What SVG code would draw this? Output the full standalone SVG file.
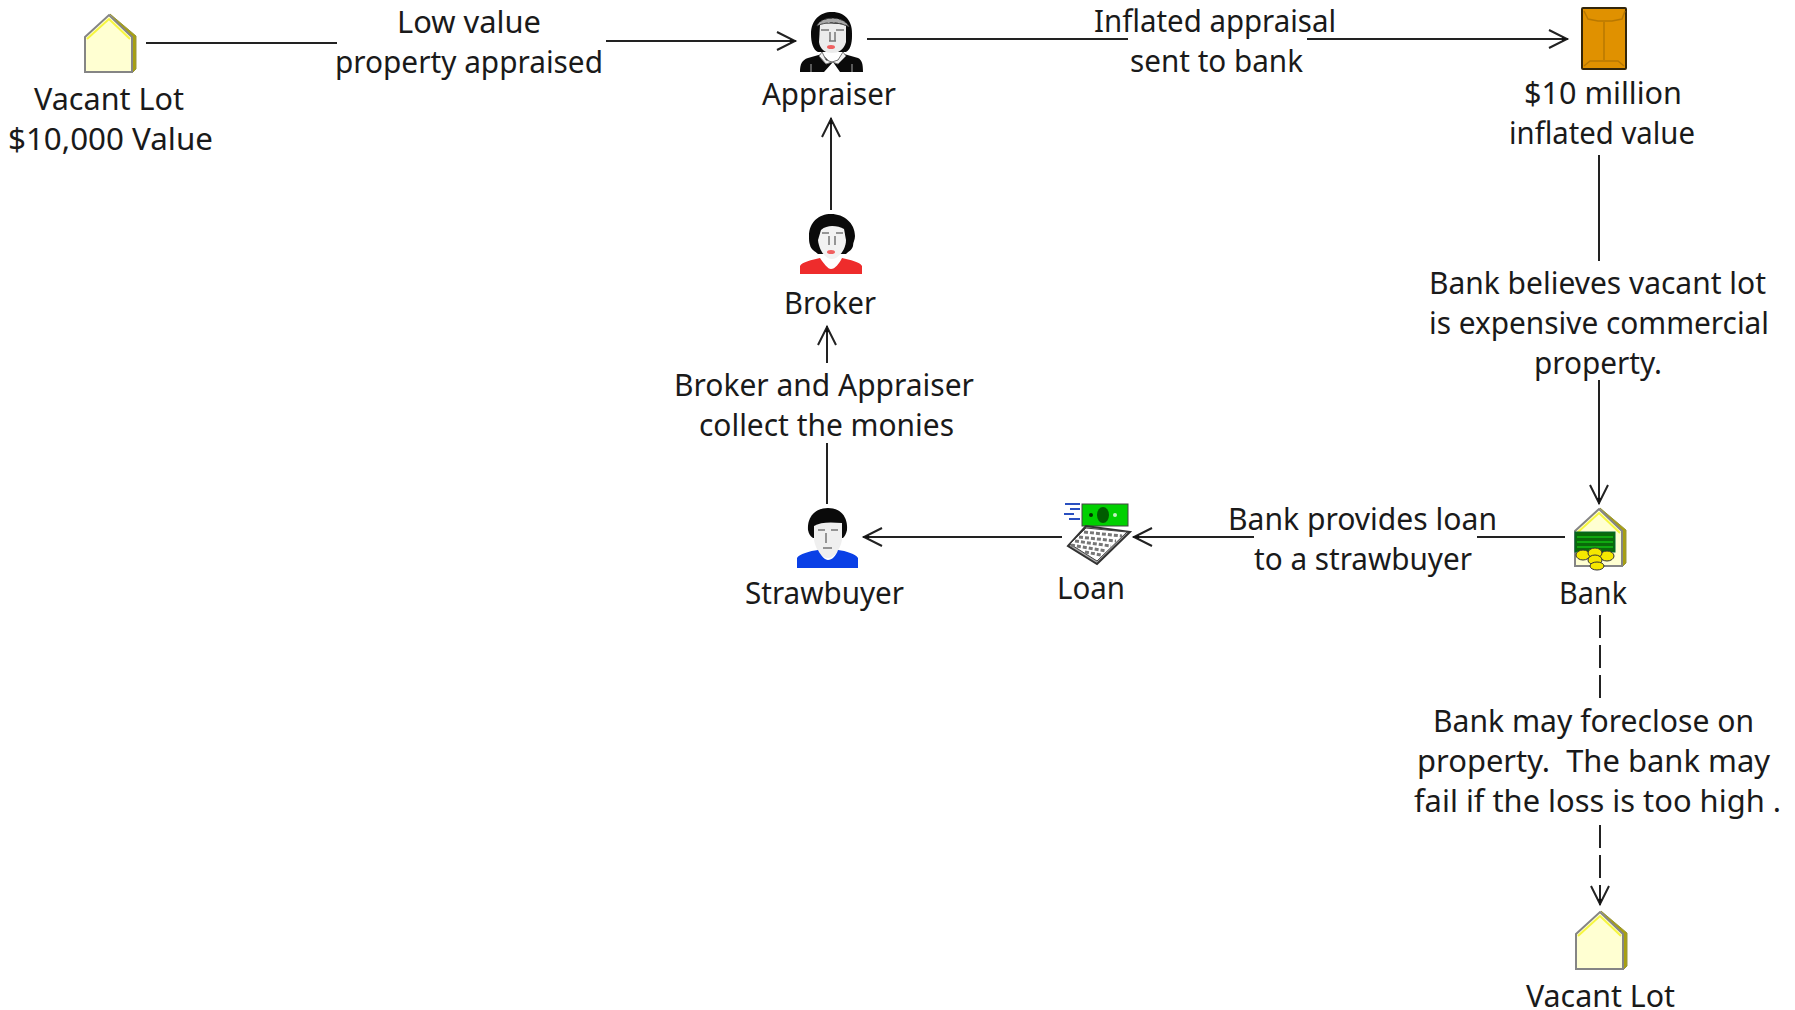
<svg xmlns="http://www.w3.org/2000/svg" width="1795" height="1010" viewBox="0 0 1795 1010">
<style>
text{font-family:"Noto Sans","DejaVu Sans",sans-serif;font-size:30px;fill:#1a1a1a;white-space:pre}
.c{fill:none;stroke:#222;stroke-width:2}
.a{marker-end:url(#arrow)}
.d{stroke-dasharray:23 7}
.fl{fill:none;stroke:#777;stroke-width:1.5}
.lip{fill:#f06060}
</style>
<defs>
<marker id="arrow" markerUnits="userSpaceOnUse" markerWidth="24" markerHeight="24" refX="22" refY="12" orient="auto" overflow="visible">
<path d="M3,3 L21,12 L3,21" fill="none" stroke="#222" stroke-width="2"/>
<path d="M16,10 L22,12 L16,14 Z" fill="#111"/>
</marker>
<g id="house">
<polygon points="1,-1 27,21 27,54 23,58 20,20" fill="#a8a010" stroke="#99953a" stroke-width="1"/>
<polygon points="-24,22 0,0 23,22 23,57 -24,57" fill="#ffffd2" stroke="#858585" stroke-width="2"/>
<polyline points="-22,24 0,4 21,24" fill="none" stroke="#f6f640" stroke-width="2"/>
</g>
</defs>

<g id="connectors">
<path class="c" d="M146,43H337"/>
<path class="c a" d="M606,41H796"/>
<path class="c" d="M867,39H1128"/>
<path class="c a" d="M1307,39H1568"/>
<path class="c" d="M1599,155V261"/>
<path class="c a" d="M1599,380V504"/>
<path class="c" d="M1477,537H1565"/>
<path class="c a" d="M1254,537H1133"/>
<path class="c a" d="M1062,537H863"/>
<path class="c" d="M827,504V443"/>
<path class="c a" d="M827,363V326"/>
<path class="c a" d="M831,210V118"/>
<path class="c d" d="M1600,615V698"/>
<path class="c d a" d="M1600,825V905"/>
</g>

<g id="vacant-lot-1">
<use href="#house" x="109" y="15"/>
<text x="34" y="110" textLength="150" lengthAdjust="spacingAndGlyphs">Vacant Lot</text>
<text x="8" y="150" textLength="205" lengthAdjust="spacingAndGlyphs">$10,000 Value</text>
</g>

<g id="appraiser">
<path d="M811,34C811,20 820,12 832,12C846,12 853,22 852,36C852,44 850,50 846,52H818C813,50 811,42 811,34Z" fill="#0a0a0a"/>
<path d="M817,26C820,16 844,15 849,27C842,22 826,21 817,26Z" fill="#a8a8a8" stroke="#444" stroke-dasharray="3 2"/>
<path d="M820,25C828,23 838,23 846,26L846,42C844,50 838,53 832,53C826,53 820,50 819,42Z" fill="#ececec"/>
<path class="fl" d="M821,30H829M836,30H844M830,32V41M835,32V41M829,41H836"/>
<ellipse class="lip" cx="831" cy="47" rx="4" ry="2"/>
<path d="M800,72C800,64 802,60 808,58L822,54L830,62L836,62L844,54L858,58C862,60 863,64 863,72H840L833,62L824,72Z" fill="#0a0a0a"/>
<path d="M822,52L826,60L832,62L838,60L843,52L846,56L838,64L832,62L826,64L819,56Z" fill="#f2f2f2" stroke="#777" stroke-width="1"/>
<path d="M811,72V64M852,72V64" stroke="#aaa" stroke-width="1"/>
<text x="762" y="105" textLength="134" lengthAdjust="spacingAndGlyphs">Appraiser</text>
</g>

<g id="inflated-value">
<rect x="1582" y="8" width="44" height="61" rx="1" fill="#e09100" stroke="#33260a" stroke-width="2"/>
<path d="M1584,11L1588,19L1598,21H1612L1622,19L1625,11M1604,22V60M1584,66L1590,61H1618L1624,66" fill="none" stroke="#b87800" stroke-width="1.5"/>
<text x="1524" y="104" textLength="158" lengthAdjust="spacingAndGlyphs">$10 million</text>
<text x="1509" y="144" textLength="186" lengthAdjust="spacingAndGlyphs">inflated value</text>
</g>

<g id="broker">
<path d="M809,236C809,222 819,214 831,214C844,214 855,223 855,236C855,240 853,242 853,246C852,250 849,251 846,254L818,254C815,251 811,250 810,245C809,242 809,240 809,236Z" fill="#0a0a0a"/>
<path d="M821,230C828,224 838,226 844,229L846,240C846,250 838,259 832,259C825,259 819,250 818,240Z" fill="#f2f2f2"/>
<path class="fl" d="M822,233H829M836,233H843M829,236V245M835,236V245"/>
<ellipse class="lip" cx="831" cy="252" rx="4" ry="2"/>
<path d="M800,274V266C802,262 812,260 820,258C824,264 828,269 831,269C835,269 839,264 842,258C850,260 860,262 862,266V274Z" fill="#ee2c2c"/>
<text x="784" y="314" textLength="92" lengthAdjust="spacingAndGlyphs">Broker</text>
</g>

<g id="monies-label">
<text x="674" y="396" textLength="300" lengthAdjust="spacingAndGlyphs">Broker and Appraiser</text>
<text x="699" y="436" textLength="255" lengthAdjust="spacingAndGlyphs">collect the monies</text>
</g>

<g id="strawbuyer">
<path d="M808,530C807,516 816,508 828,508C840,508 848,516 847,530C846,534 845,536 843,538H813C810,536 809,534 808,530Z" fill="#0a0a0a"/>
<path d="M814,526C820,522 830,522 842,523L842,540C840,550 834,558 828,558C821,558 816,550 814,540Z" fill="#efefef"/>
<path class="fl" d="M818,530H825M831,530H838M826,533V543M823,548H832"/>
<path d="M797,568V558C799,554 810,551 818,550C821,556 825,560 828,560C832,560 836,556 838,550C846,551 856,554 858,558V568Z" fill="#0a40e6"/>
<text x="745" y="604" textLength="159" lengthAdjust="spacingAndGlyphs">Strawbuyer</text>
</g>

<g id="loan">
<path d="M1065,504H1080M1070,509H1080M1064,514H1074M1069,519H1080" stroke="#2a50c0" stroke-width="2" fill="none"/>
<rect x="1082" y="504" width="46" height="22" fill="#00d000" stroke="#444"/>
<ellipse cx="1103" cy="515" rx="6" ry="8" fill="#005c00"/>
<circle cx="1091" cy="515" r="2" fill="#003000"/><circle cx="1115" cy="515" r="2" fill="#c0f0c0"/>
<polygon points="1068,546 1086,526 1130,532 1097,564" fill="#aaa" stroke="#333" stroke-width="2"/>
<polygon points="1070,544 1086,528 1127,532 1097,561" fill="#fff" stroke="#444" stroke-width="1"/>
<path d="M1084,532L1122,536M1079,537L1116,541M1075,541L1111,546M1071,545L1106,551M1085,552L1101,555" stroke="#777" stroke-width="3" stroke-dasharray="4 2" fill="none"/>
<text x="1057" y="599" textLength="68" lengthAdjust="spacingAndGlyphs">Loan</text>
</g>

<g id="bank">
<use href="#house" x="1599" y="509"/>
<rect x="1575" y="532" width="40" height="20" fill="#0a6a0a" stroke="#063"/>
<path d="M1577,537H1613M1577,542H1613M1577,547H1613" stroke="#10a810" stroke-width="2"/>
<g fill="#f5e800" stroke="#333">
<ellipse cx="1583" cy="555" rx="7" ry="5"/>
<ellipse cx="1607" cy="556" rx="7" ry="5"/>
<ellipse cx="1595" cy="553" rx="7" ry="5"/>
<ellipse cx="1595" cy="560" rx="7" ry="5"/>
<ellipse cx="1597" cy="566" rx="7" ry="4"/>
</g>
<text x="1559" y="604" textLength="68" lengthAdjust="spacingAndGlyphs">Bank</text>
</g>

<g id="vacant-lot-2">
<use href="#house" x="1600" y="912"/>
<text x="1526" y="1007" textLength="149" lengthAdjust="spacingAndGlyphs">Vacant Lot</text>
</g>

<g id="connector-labels">
<text x="397" y="33" textLength="144" lengthAdjust="spacingAndGlyphs">Low value</text>
<text x="335" y="73" textLength="268" lengthAdjust="spacingAndGlyphs">property appraised</text>
<text x="1094" y="32" textLength="242" lengthAdjust="spacingAndGlyphs">Inflated appraisal</text>
<text x="1130" y="72" textLength="173" lengthAdjust="spacingAndGlyphs">sent to bank</text>
<text x="1429" y="294" textLength="337" lengthAdjust="spacingAndGlyphs">Bank believes vacant lot</text>
<text x="1429" y="334" textLength="340" lengthAdjust="spacingAndGlyphs">is expensive commercial</text>
<text x="1534" y="374" textLength="128" lengthAdjust="spacingAndGlyphs">property.</text>
<text x="1228" y="530" textLength="269" lengthAdjust="spacingAndGlyphs">Bank provides loan</text>
<text x="1254" y="570" textLength="218" lengthAdjust="spacingAndGlyphs">to a strawbuyer</text>
<text x="1433" y="732" textLength="321" lengthAdjust="spacingAndGlyphs">Bank may foreclose on</text>
<text x="1417" y="772" textLength="353" lengthAdjust="spacingAndGlyphs">property.  The bank may</text>
<text x="1414" y="812" textLength="367" lengthAdjust="spacingAndGlyphs">fail if the loss is too high .</text>
</g>
</svg>
